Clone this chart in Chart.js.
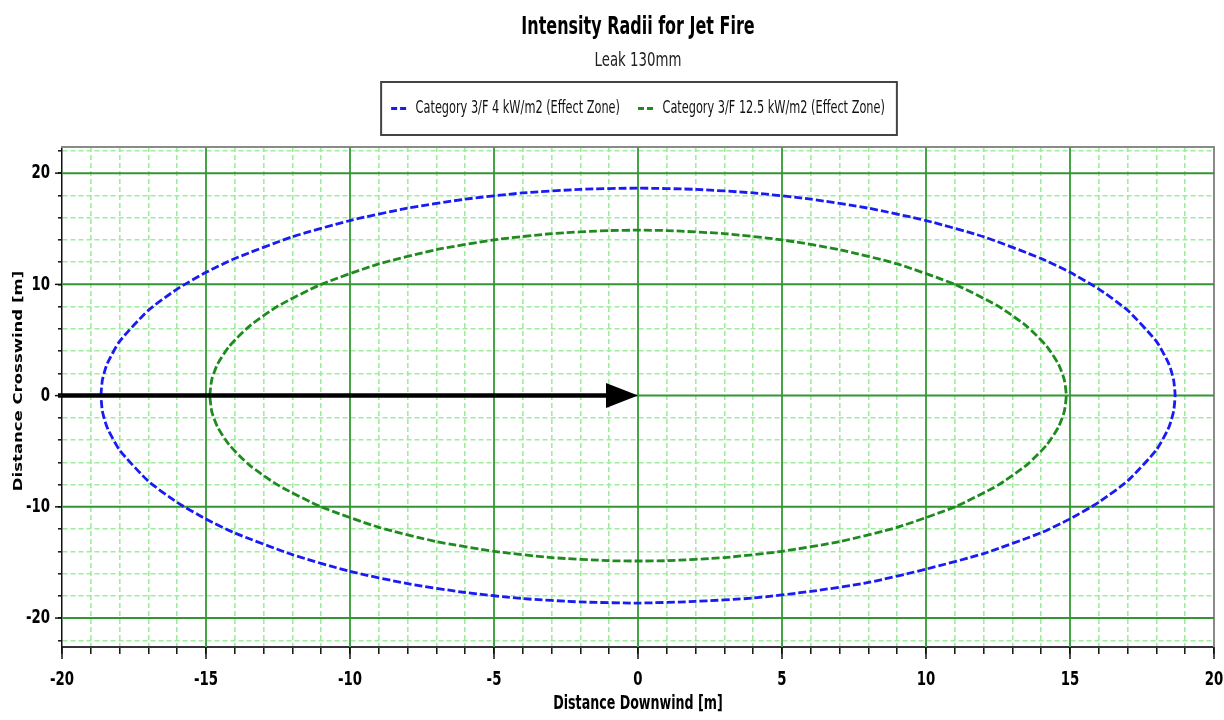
<!DOCTYPE html>
<html>
<head>
<meta charset="utf-8">
<script src="https://cdn.jsdelivr.net/npm/chart.js@4.4.1/dist/chart.umd.min.js"></script>
<style>
html,body{margin:0;padding:0;background:#fff;}
#wrap{width:1224px;height:720px;}
</style>
</head>
<body>
<div id="wrap"><canvas id="c" width="1224" height="720"></canvas></div>
<script>
// ---------- data ----------
const chartTitle = 'Intensity Radii for Jet Fire';
const chartSubtitle = 'Leak 130mm';
const seriesNames = ['Category 3/F 4 kW/m2 (Effect Zone)', 'Category 3/F 12.5 kW/m2 (Effect Zone)'];
const xAxisTitle = 'Distance Downwind [m]';
const yAxisTitle = 'Distance Crosswind [m]';
const xRange = [-20, 20];
const yRange = [-22.6, 22.35];
const xMinorStep = 1, xMajorStep = 5;
const yMinorStep = 2, yMajorStep = 10;
const arrowX = [-20, 0];
const arrowY = [0, 0];

// 4 kW/m2 contour
const blueX = [-18.65,-18.6,-18.5,-18.4,-18,-17,-16,-15,-14,-12,-10,-8,-6,-4,-2,0,2,4,6,8,10,12,14,15,16,17,18,18.4,18.5,18.6,18.65,
               18.6,18.5,18.4,18,17,16,15,14,12,10,8,6,4,2,0,-2,-4,-6,-8,-10,-12,-14,-15,-16,-17,-18,-18.4,-18.5,-18.6,-18.65];
const blueY = [0,1.37,2.36,3.04,4.88,7.67,9.58,11.08,12.32,14.28,15.74,16.85,17.66,18.22,18.54,18.65,18.54,18.22,17.66,16.85,15.74,14.28,12.32,11.08,9.58,7.67,4.88,3.04,2.36,1.37,0,
               -1.37,-2.36,-3.04,-4.88,-7.67,-9.58,-11.08,-12.32,-14.2,-15.6,-16.8,-17.6,-18.2,-18.5,-18.65,-18.55,-18.25,-17.7,-16.9,-15.8,-14.3,-12.35,-11.1,-9.6,-7.7,-4.9,-3.05,-2.36,-1.37,0];
// 12.5 kW/m2 contour
const greenX = [-14.87,-14.8,-14.6,-14.2,-13.5,-12.5,-11,-9,-7,-5,-3,-1,0,1,3,5,7,9,11,12.5,13.5,14.2,14.6,14.8,14.87,
                14.8,14.6,14.2,13.5,12.5,11,9,7,5,3,1,0,-1,-3,-5,-7,-9,-11,-12.5,-13.5,-14.2,-14.6,-14.8,-14.87];
const greenY = [0,1.44,2.82,4.41,6.23,8.05,10,11.84,13.12,14,14.56,14.84,14.87,14.84,14.56,14,13.12,11.84,10,8.05,6.23,4.41,2.82,1.44,0,
                -1.44,-2.82,-4.41,-6.23,-8.05,-10,-11.84,-13.12,-14,-14.56,-14.84,-14.87,-14.84,-14.56,-14,-13.12,-11.84,-10,-8.05,-6.23,-4.41,-2.82,-1.44,0];

const toPts = (xs, ys) => xs.map((v, i) => ({x: v, y: ys[i]}));

// ---------- narrow text rendering (horizontal squish in screen space) ----------
const SQUISH = 0.74;
(function () {
  const P = CanvasRenderingContext2D.prototype;
  const origFill = P.fillText, origMeasure = P.measureText;
  P.fillText = function (text, x, y, maxWidth) {
    const m = this.getTransform();
    const rotated = Math.abs(m.b) > 1e-6 || Math.abs(m.c) > 1e-6;
    const p = m.transformPoint(new DOMPoint(x, y));
    this.save();
    this.setTransform(new DOMMatrix().translate(p.x, p.y).scale(SQUISH, 1).translate(-p.x, -p.y).multiply(m));
    if (maxWidth === undefined || maxWidth === null || !isFinite(maxWidth)) origFill.call(this, text, x, y);
    else origFill.call(this, text, x, y, rotated ? maxWidth : maxWidth / SQUISH);
    this.restore();
  };
  P.measureText = function (text) {
    const r = origMeasure.call(this, text);
    const m = this.getTransform();
    if (Math.abs(m.b) > 1e-6) return r;
    return {
      width: r.width * SQUISH,
      actualBoundingBoxLeft: r.actualBoundingBoxLeft * SQUISH,
      actualBoundingBoxRight: r.actualBoundingBoxRight * SQUISH,
      actualBoundingBoxAscent: r.actualBoundingBoxAscent,
      actualBoundingBoxDescent: r.actualBoundingBoxDescent,
      fontBoundingBoxAscent: r.fontBoundingBoxAscent,
      fontBoundingBoxDescent: r.fontBoundingBoxDescent
    };
  };
})();

const COND = "'DejaVu Sans Condensed', 'DejaVu Sans', sans-serif";

// ---------- plugins ----------
const decor = {
  id: 'decor',
  beforeDatasetsDraw(chart) {
    const {ctx, chartArea: a, scales: {x, y}} = chart;
    ctx.save();
    ctx.beginPath(); ctx.rect(a.left, a.top, a.right - a.left, a.bottom - a.top); ctx.clip();
    x.ticks.forEach(t => {
      if (t.value % xMajorStep !== 0 || t.value === x.min || t.value === x.max) return;
      const px = x.getPixelForValue(t.value);
      ctx.strokeStyle = '#46a346'; ctx.lineWidth = 2;
      ctx.beginPath(); ctx.moveTo(px, a.top); ctx.lineTo(px, a.bottom); ctx.stroke();
    });
    y.ticks.forEach(t => {
      if (t.value % yMajorStep !== 0) return;
      const py = y.getPixelForValue(t.value);
      ctx.strokeStyle = '#349536'; ctx.lineWidth = 2;
      ctx.beginPath(); ctx.moveTo(a.left, py); ctx.lineTo(a.right, py); ctx.stroke();
    });
    ctx.restore();
  },
  afterDatasetsDraw(chart) {
    const {ctx, scales: {x, y}} = chart;
    const x0 = x.getPixelForValue(arrowX[0]) - 4, x1 = x.getPixelForValue(arrowX[1]);
    const y0 = y.getPixelForValue(arrowY[0]), y1 = y.getPixelForValue(arrowY[1]);
    const head = 32, half = 12.5;
    ctx.save();
    ctx.strokeStyle = '#000'; ctx.fillStyle = '#000'; ctx.lineWidth = 4.5;
    ctx.beginPath(); ctx.moveTo(x0, y0); ctx.lineTo(x1 - head + 2, y1); ctx.stroke();
    ctx.beginPath(); ctx.moveTo(x1, y1); ctx.lineTo(x1 - head, y1 - half); ctx.lineTo(x1 - head, y1 + half); ctx.closePath(); ctx.fill();
    ctx.restore();
  },
  afterDraw(chart) {
    const {ctx, chartArea: a, scales: {x, y}} = chart;
    ctx.save();
    // longer major ticks
    ctx.strokeStyle = '#111'; ctx.lineWidth = 1.5;
    x.ticks.forEach(t => {
      if (t.value % xMajorStep !== 0) return;
      const px = x.getPixelForValue(t.value);
      ctx.beginPath(); ctx.moveTo(px, a.bottom); ctx.lineTo(px, a.bottom + 12); ctx.stroke();
    });
    y.ticks.forEach(t => {
      if (t.value % yMajorStep !== 0) return;
      const py = y.getPixelForValue(t.value);
      ctx.beginPath(); ctx.moveTo(a.left - 7, py); ctx.lineTo(a.left, py); ctx.stroke();
    });
    // legend frame
    const lg = chart.legend;
    if (lg && lg.legendHitBoxes && lg.legendHitBoxes.length) {
      const hb = lg.legendHitBoxes;
      const l = Math.min(...hb.map(h => h.left)) - 10;
      const r = Math.max(...hb.map(h => h.left + h.width)) + 12;
      const t = Math.min(...hb.map(h => h.top)) - 18;
      const b = Math.max(...hb.map(h => h.top + h.height)) + 18;
      ctx.strokeStyle = '#444'; ctx.lineWidth = 2;
      ctx.strokeRect(l, t, r - l, b - t);
    }
    // y axis title
    ctx.fillStyle = '#000';
    ctx.font = "bold 16.5px 'DejaVu Sans', sans-serif";
    ctx.textAlign = 'center'; ctx.textBaseline = 'middle';
    ctx.translate(19, (a.top + a.bottom) / 2 - 16);
    ctx.rotate(-Math.PI / 2);
    ctx.fillText(yAxisTitle, 0, 0);
    ctx.restore();
  }
};

// ---------- chart ----------
new Chart(document.getElementById('c'), {
  type: 'scatter',
  data: {
    datasets: [
      {label: seriesNames[0], data: toPts(blueX, blueY), showLine: true, pointRadius: 0,
       borderColor: '#1a1af2', backgroundColor: '#1a1af2', borderWidth: 2.8, borderDash: [8, 3], fill: false, tension: 0.2},
      {label: seriesNames[1], data: toPts(greenX, greenY), showLine: true, pointRadius: 0,
       borderColor: '#1f8a1f', backgroundColor: '#1f8a1f', borderWidth: 2.8, borderDash: [8, 3], fill: false, tension: 0.2}
    ]
  },
  options: {
    responsive: false,
    animation: false,
    devicePixelRatio: 1,
    layout: {padding: 0},
    plugins: {
      title: {display: true, text: chartTitle, fullSize: false, color: '#000',
              font: {family: COND, size: 24, weight: 'bold'}, padding: {top: 13.6, bottom: 4}},
      subtitle: {display: true, text: chartSubtitle, fullSize: false, color: '#222',
              font: {family: COND, size: 20, weight: 'normal'}, padding: {top: 2.6, bottom: 9}},
      legend: {display: true, position: 'top', fullSize: false,
              labels: {usePointStyle: true, pointStyle: 'line', pointStyleWidth: 16, padding: 18, color: '#111',
                       font: {family: COND, size: 17},
                       generateLabels: chart => Chart.defaults.plugins.legend.labels.generateLabels(chart).map(l => {
                         const ds = chart.data.datasets[l.datasetIndex];
                         return Object.assign(l, {lineDash: [6, 3], lineWidth: 2.8, strokeStyle: ds.borderColor, fillStyle: ds.borderColor});
                       })}},
      tooltip: {enabled: false}
    },
    scales: {
      x: {
        type: 'linear', position: 'bottom', min: xRange[0], max: xRange[1],
        ticks: {stepSize: xMinorStep, autoSkip: false, maxRotation: 0, includeBounds: false, padding: 14, color: '#000',
                font: {family: COND, size: 20, weight: 'bold'},
                callback: v => (v % xMajorStep === 0 ? String(v) : '')},
        grid: {color: c => (c.tick && c.tick.value % xMajorStep === 0 ? 'rgba(0,0,0,0)' : '#9ded9d'),
               lineWidth: 1.6, tickLength: 7, tickColor: '#111', tickWidth: 1.5, drawTicks: true},
        border: {display: true, color: '#333', width: 2, dash: [5, 3]},
        title: {display: true, text: xAxisTitle, color: '#000', font: {family: COND, size: 19, weight: 'bold'}, padding: {top: 0, bottom: 5}},
        afterFit: s => { s.height = 73; s.paddingLeft = 0; s.paddingRight = 0; }
      },
      y: {
        type: 'linear', position: 'left', min: yRange[0], max: yRange[1],
        ticks: {stepSize: yMinorStep, autoSkip: false, includeBounds: false, padding: 8, color: '#000',
                font: {family: COND, size: 20, weight: 'bold'},
                callback: v => (v % yMajorStep === 0 ? String(v) : '')},
        grid: {color: c => (c.tick && c.tick.value % yMajorStep === 0 ? 'rgba(0,0,0,0)' : '#9ded9d'),
               lineWidth: 1.6, tickLength: 4, tickColor: '#111', tickWidth: 1.5, drawTicks: true},
        border: {display: true, color: '#111', width: 1.5, dash: [5, 3]},
        title: {display: false},
        afterFit: s => { s.width = 62; s.paddingTop = 0; s.paddingBottom = 0; }
      },
      xTop: {
        type: 'linear', position: 'top', display: true,
        ticks: {display: false},
        grid: {drawOnChartArea: false, drawTicks: false},
        border: {display: true, color: '#8a8a8a', width: 2},
        afterFit: s => { s.height = 20; }
      },
      yRight: {
        type: 'linear', position: 'right', display: true,
        ticks: {display: false},
        grid: {drawOnChartArea: false, drawTicks: false},
        border: {display: true, color: '#8a8a8a', width: 2},
        afterFit: s => { s.width = 10; }
      }
    }
  },
  plugins: [decor]
});
</script>
</body>
</html>
